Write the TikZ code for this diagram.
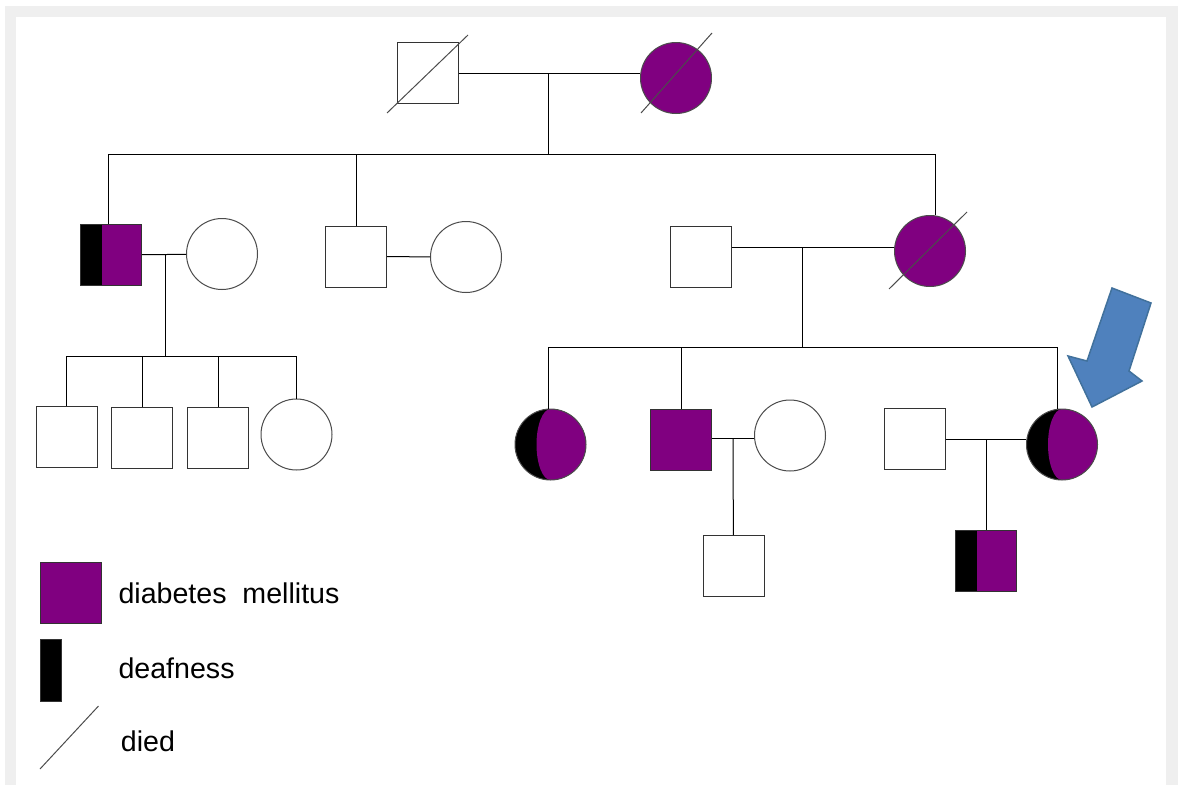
\documentclass[tikz,border=0pt]{standalone}
\usepackage{fontspec}
\setmainfont{Liberation Sans}
\definecolor{dmpurple}{HTML}{800080}
\definecolor{framegray}{HTML}{EFEFEF}
\definecolor{arrowblue}{HTML}{4F81BD}
\definecolor{arrowedge}{HTML}{41719C}
\begin{document}
\begin{tikzpicture}[x=1pt, y=-1pt,
    male/.style={rectangle, draw=black!80, line width=1pt, fill=white, minimum size=61pt, inner sep=0pt},
    female/.style={circle, draw=black!70, line width=1pt, fill=white, minimum size=71pt, inner sep=0pt},
    affected/.style={fill=dmpurple},
    deafdm/.style={fill=dmpurple, path picture={\fill[black] (path picture bounding box.south west) rectangle ([xshift=21pt]path picture bounding box.north west);}},
    crescent/.style={fill=black, path picture={\fill[dmpurple] (path picture bounding box.north) arc[start angle=90, end angle=-90, radius=35.5pt] arc[start angle=270, end angle=90, x radius=14pt, y radius=35.5pt];}},
    link/.style={line width=1pt},
    died/.style={draw=black!70, line width=1pt},
    legendtext/.style={anchor=west, inner sep=0pt, font=\fontsize{28.6pt}{34pt}\selectfont}
]

    %% Frame
    \fill[white] (0,0) rectangle (1183,785);
    \fill[framegray] (5,6) rectangle (1178,785);
    \fill[white] (16,17) rectangle (1166,785);
    \useasboundingbox (0,0) rectangle (1183,785);

    %% Generation I
    \node[male] (gp1) at (427.5,73) {};
    \node[female, affected] (gp2) at (676,78) {};
    \coordinate (m1) at (548,73);
    \coordinate (s1) at (548,154);
    \draw[link] (gp1) -- (gp2.west |- gp1);
    \draw[link] (m1) -- (s1);

    %% Generation II
    \node[male, deafdm] (ii1) at (111,255) {};
    \node[female] (ii1w) at (222,254) {};
    \node[male] (ii2) at (356,256.5) {};
    \node[female] (ii2w) at (466,257) {};
    \node[male] (ii3) at (700.5,256.5) {};
    \node[female, affected] (ii4) at (930,251) {};
    \draw[link] ([xshift=-3pt]ii1.north) -- ([xshift=-3pt]ii1.north |- s1) -- ([xshift=5pt]ii4.north |- s1) -- ([xshift=5pt]ii4.north);
    \draw[link] (ii2 |- s1) -- (ii2);
    \draw[link] (ii1) -- (ii1w);
    \draw[link] (ii2) -- (ii2w);
    \coordinate (m2) at (165,255);
    \coordinate (s2) at (165,356);
    \draw[link] (m2) -- (s2);
    \coordinate (m3) at (802,247);
    \coordinate (s3) at (802,347);
    \draw[link] (m3 -| ii3.east) -- (m3 -| ii4.west);
    \draw[link] (m3) -- (s3);

    %% Generation III
    \node[male] (iii1) at (66.5,436.5) {};
    \node[male] (iii2) at (142,437.5) {};
    \node[male] (iii3) at (218,437.5) {};
    \node[female] (iii4) at (296.5,434.5) {};
    \draw[link] (iii1) -- (iii1 |- s2) -- (iii4 |- s2) -- (iii4);
    \draw[link] (iii2 |- s2) -- (iii2);
    \draw[link] (iii3 |- s2) -- (iii3);

    \node[female, crescent] (iii5) at (550.5,444.5) {};
    \node[male, affected] (iii6) at (681,439.5) {};
    \node[female] (iii6w) at (790,435.5) {};
    \node[male] (iii7) at (914.5,439) {};
    \node[female, crescent] (iii8) at (1062,444.5) {};
    \draw[link] ([xshift=-2.5pt]iii5.north) -- ([xshift=-2.5pt]iii5.north |- s3) -- ([xshift=-5pt]iii8.north |- s3) -- ([xshift=-5pt]iii8.north);
    \draw[link] (iii6 |- s3) -- (iii6);
    \coordinate (m4) at (733,438);
    \draw[link] (m4 -| iii6.east) -- (m4 -| iii6w.west);
    \draw[link] (iii7.east) -- (iii7.east -| iii8.west);

    %% Generation IV
    \node[male] (iv1) at (733.5,566) {};
    \node[male, deafdm] (iv2) at (986,561) {};
    \coordinate (m5) at (986,439);
    \draw[link] (m4) -- (iv1);
    \draw[link] (m5) -- (iv2);

    %% Died
    \draw[died] ([shift={(-40.5,40)}]gp1.center) -- ([shift={(40.5,-38)}]gp1.center);
    \draw[died] ([shift={(-35,35)}]gp2.center) -- ([shift={(36,-45)}]gp2.center);
    \draw[died] ([shift={(-41,38)}]ii4.center) -- ([shift={(37,-39)}]ii4.center);

    %% Proband
    \draw[fill=arrowblue, draw=arrowedge, line width=1.5pt] (1112,288) -- (1151,303) -- (1129,371) -- (1142,381) -- (1092,407) -- (1068,356) -- (1087,361) -- cycle;

    %% Legend
    \node[male, affected] (lg1) at (70.8,593.3) {};
    \node[draw=black!80, fill=black, minimum width=21.7pt, minimum height=62pt, inner sep=0pt] (lg2) at (50.8,670.3) {};
    \draw[died] (40,769) -- (98.5,706);
    \node[legendtext] (lg1txt) at (118.3,593.6) {diabetes\ \ mellitus};
    \node[legendtext] (lg2txt) at (118.3,668) {deafness};
    \node[legendtext] (lg3txt) at (120.7,741.7) {died};

\end{tikzpicture}
\end{document}
